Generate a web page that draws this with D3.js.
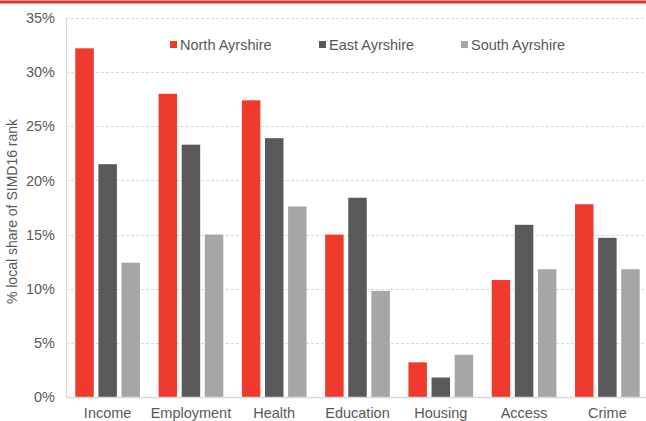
<!DOCTYPE html>
<html><head><meta charset="utf-8">
<script src="https://cdn.jsdelivr.net/npm/d3@7"></script>
<style>body{margin:0;background:#fff}svg{display:block}text{font-family:"Liberation Sans",Arial,sans-serif;fill:#595959}</style>
</head><body><svg id="c" width="646" height="421"></svg>
<script>
const categories = ["Income","Employment","Health","Education","Housing","Access","Crime"];
const seriesNames = ["North Ayrshire","East Ayrshire","South Ayrshire"];
const northAyrshire = [32.2,28.0,27.4,15.0,3.2,10.8,17.8];
const eastAyrshire  = [21.5,23.3,23.9,18.4,1.8,15.9,14.7];
const southAyrshire = [12.4,15.0,17.6,9.8,3.9,11.8,11.8];
const yTicks = [0,5,10,15,20,25,30,35];
const colors = ["#EE3B2E","#595959","#A6A6A6"];

const series = [northAyrshire,eastAyrshire,southAyrshire];
const svg = d3.select("#c");
const mLeft = 66, mRight = 649, mTop = 18, mBottom = 397;

svg.append("rect").attr("x",0).attr("y",0.5).attr("width",646).attr("height",3).attr("fill","#E8302A");

const x = d3.scaleBand().domain(categories).range([mLeft,mRight]).paddingInner(0.223).paddingOuter(0.1115);
const xs = d3.scaleBand().domain(seriesNames).range([0,x.bandwidth()]).paddingInner(0.2);
const y = d3.scaleLinear().domain([0,35]).range([mBottom,mTop]);

const g = svg.append("g");
g.selectAll(".grid").data(yTicks.filter(d=>d>0)).join("line")
  .attr("x1",mLeft).attr("x2",646).attr("y1",d=>Math.round(y(d))+0.5).attr("y2",d=>Math.round(y(d))+0.5)
  .attr("stroke","#D9D9D9").attr("stroke-dasharray","3,2");

series.forEach((vals,si)=>{
  g.selectAll(".b"+si).data(categories).join("rect")
    .attr("x",(c)=>x(c)+xs(seriesNames[si]))
    .attr("width",xs.bandwidth())
    .attr("y",(c,i)=>y(vals[i]))
    .attr("height",(c,i)=>y(0)-y(vals[i]))
    .attr("fill",colors[si]);
});

const yAxis = svg.append("g").attr("transform",`translate(${mLeft},0)`)
  .call(d3.axisLeft(y).tickValues(yTicks).tickFormat(d=>d+"%").tickSize(0).tickPadding(11));
yAxis.select(".domain").remove();
yAxis.selectAll("text").style("font-size","14.5px").attr("fill","#595959");
svg.append("line").attr("x1",mLeft+0.5).attr("x2",mLeft+0.5).attr("y1",mTop).attr("y2",mBottom).attr("stroke","#D9D9D9");

const xAxis = svg.append("g").attr("transform",`translate(0,${mBottom})`)
  .call(d3.axisBottom(x).tickSize(0).tickPadding(11));
xAxis.select(".domain").remove();
xAxis.selectAll("text").style("font-size","14.5px").attr("fill","#595959");
svg.append("line").attr("x1",mLeft).attr("x2",646).attr("y1",mBottom+0.5).attr("y2",mBottom+0.5).attr("stroke","#D9D9D9").attr("stroke-width",1.5);

svg.append("text").attr("transform",`translate(17,${(mTop+mBottom)/2+4}) rotate(-90)`)
  .attr("text-anchor","middle").style("font-size","14px").text("% local share of SIMD16 rank");

const legX = [170,319,461];
seriesNames.forEach((n,i)=>{
  svg.append("rect").attr("x",legX[i]).attr("y",41).attr("width",7).attr("height",7).attr("fill",colors[i]);
  svg.append("text").attr("x",legX[i]+10).attr("y",49.5).style("font-size","14.5px").text(n);
});
</script></body></html>
